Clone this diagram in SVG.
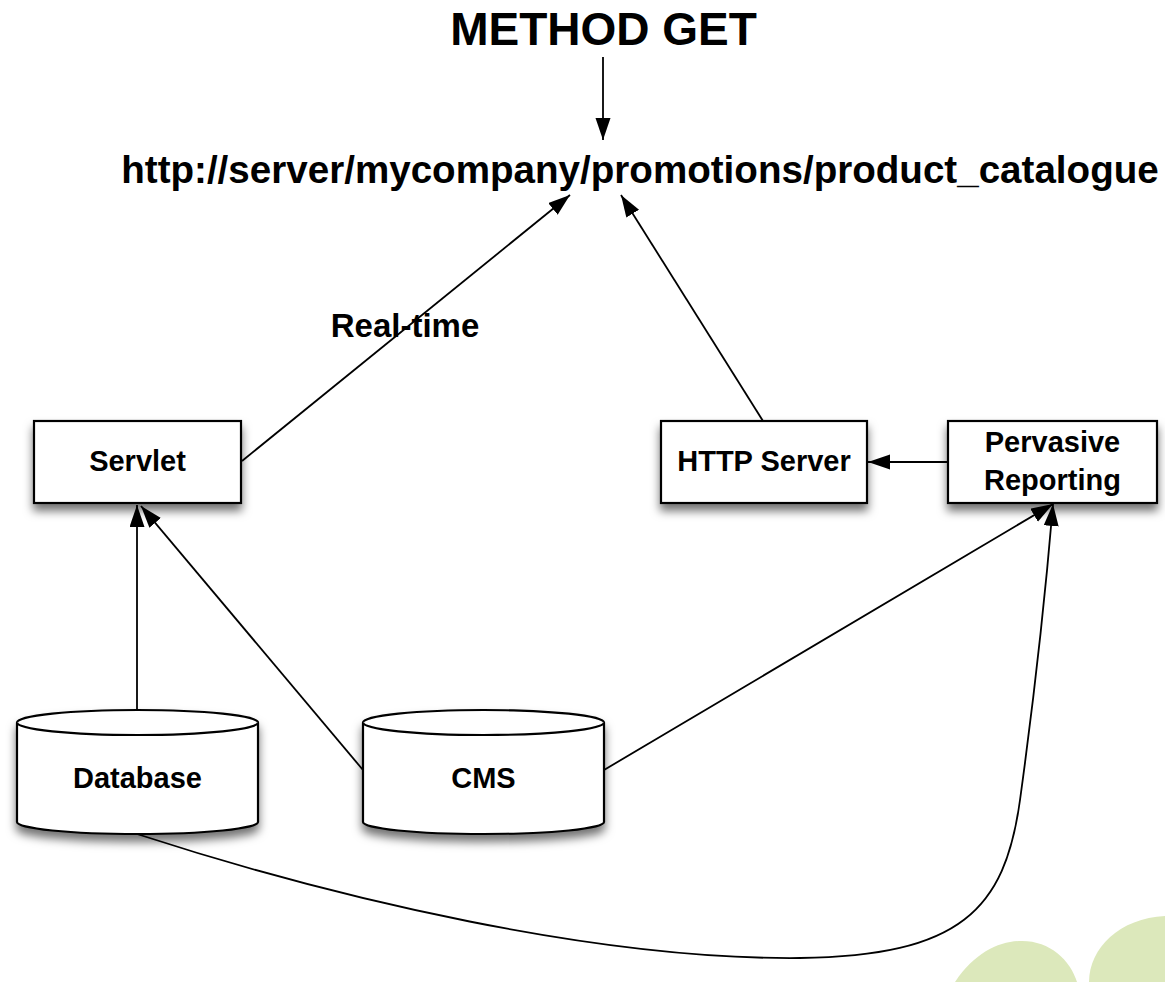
<svg xmlns="http://www.w3.org/2000/svg" width="1165" height="982" viewBox="0 0 1165 982">
<defs>
<style>
.lbl{font-family:"Liberation Sans",Arial,sans-serif;font-weight:bold;fill:#000}
.node{fill:#fff;stroke:#000;stroke-width:2.2}
.conn{fill:none;stroke:#000;stroke-width:1.8}
.blob{fill:#dce8bb}
</style>
<filter id="sh" x="-20%" y="-20%" width="140%" height="160%">
<feDropShadow dx="0" dy="7" stdDeviation="5" flood-color="#000" flood-opacity="0.55"/>
</filter>
<marker id="ah" markerUnits="userSpaceOnUse" markerWidth="24" markerHeight="16" refX="22" refY="7.5" orient="auto">
<path d="M0,0 L22,7.5 L0,15 Z" fill="#000"/>
</marker>
</defs>
<rect width="1165" height="982" fill="#fff"/>
<g id="decor">
<path class="blob" d="M955,982 C975,952 1000,941 1022,941 C1050,941 1070,960 1077,982 Z"/>
<path class="blob" d="M1089,982 C1089,948 1120,918 1165,916 L1165,982 Z"/>
</g>
<g id="connectors">
<path class="conn" d="M603,57 L603,140" marker-end="url(#ah)"/>
<path class="conn" d="M242,461 L570,195" marker-end="url(#ah)"/>
<path class="conn" d="M763,421 L621,195" marker-end="url(#ah)"/>
<path class="conn" d="M948,462 L868,462" marker-end="url(#ah)"/>
<path class="conn" d="M137,710 L137,505" marker-end="url(#ah)"/>
<path class="conn" d="M363,770 L141,506" marker-end="url(#ah)"/>
<path class="conn" d="M604,770 L1053,504" marker-end="url(#ah)"/>
<path class="conn" d="M137,834 C340,900 600,960 800,958 C960,956 1005,910 1020,800 C1031,720 1045,600 1053,504" marker-end="url(#ah)"/>
<text class="lbl" x="405" y="337" font-size="33" text-anchor="middle">Real-time</text>
</g>
<g id="method">
<text class="lbl" x="603.5" y="45" font-size="46" text-anchor="middle">METHOD GET</text>
</g>
<g id="url">
<text class="lbl" x="640" y="183" font-size="38.6" text-anchor="middle">http://server/mycompany/promotions/product_catalogue</text>
</g>
<g id="servlet">
<rect class="node" x="34" y="421" width="207" height="82" filter="url(#sh)"/>
<text class="lbl" x="137.5" y="471" font-size="29" text-anchor="middle">Servlet</text>
</g>
<g id="http-server">
<rect class="node" x="661" y="421" width="206" height="82" filter="url(#sh)"/>
<text class="lbl" x="764" y="471" font-size="29" text-anchor="middle">HTTP Server</text>
</g>
<g id="pervasive-reporting">
<rect class="node" x="948" y="421" width="209" height="82" filter="url(#sh)"/>
<text class="lbl" x="1052.5" y="452" font-size="29" text-anchor="middle">Pervasive</text>
<text class="lbl" x="1052.5" y="490" font-size="29" text-anchor="middle">Reporting</text>
</g>
<g id="database">
<path class="node" d="M17,722.5 L17,822 A120.5,12 0 0 0 258,822 L258,722.5 A120.5,12.5 0 0 0 17,722.5 Z" filter="url(#sh)"/>
<path class="node" d="M17,722.5 A120.5,12.5 0 0 0 258,722.5" fill="none"/>
<text class="lbl" x="137.5" y="788" font-size="29" text-anchor="middle">Database</text>
</g>
<g id="cms">
<path class="node" d="M363,722.5 L363,822 A120.5,12 0 0 0 604,822 L604,722.5 A120.5,12.5 0 0 0 363,722.5 Z" filter="url(#sh)"/>
<path class="node" d="M363,722.5 A120.5,12.5 0 0 0 604,722.5" fill="none"/>
<text class="lbl" x="483.5" y="788" font-size="29" text-anchor="middle">CMS</text>
</g>
</svg>
